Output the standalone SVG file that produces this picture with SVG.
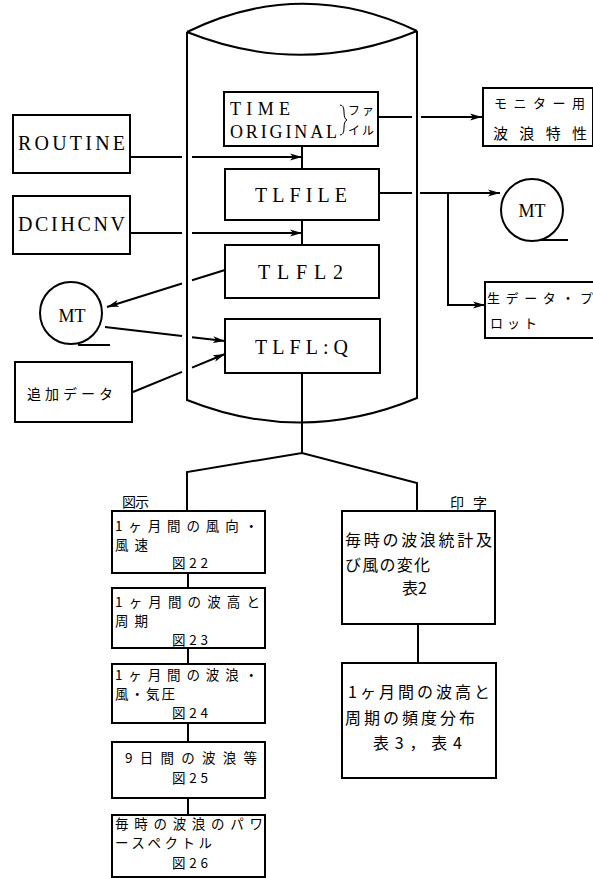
<svg xmlns="http://www.w3.org/2000/svg" width="593" height="878" viewBox="0 0 593 878">
<style>
.bx{fill:#fff;stroke:#000;stroke-width:2}
.ln{fill:none;stroke:#000;stroke-width:2}
.en{font-family:"Liberation Serif",serif;font-size:20px;fill:#000}
.jp{font-family:"Noto Sans CJK JP",sans-serif;font-size:14px;fill:#000}
.sm{font-size:13.5px}
.lg{font-size:16px}
.mid{text-anchor:middle}
</style>
<defs>
<marker id="ah" markerWidth="13" markerHeight="8" refX="12" refY="4" orient="auto" markerUnits="userSpaceOnUse">
<path d="M0,0.5 L12,4 L0,7.5 L3,4 z" fill="#000"/>
</marker>
</defs>
<rect width="593" height="878" fill="#fff"/>

<g id="cylinder">
<path class="ln" d="M187,32 Q302,-24 417,31 M187,32 Q302,78 417,31 M187,32 L187,400 Q302,446 417,398 L417,31"/>
</g>

<g id="connectors">
<path class="ln" d="M130,157 L182,157 M192,157 L302,157" marker-end="url(#ah)"/>
<path class="ln" d="M130,233 L182,233 M192,233 L302,233" marker-end="url(#ah)"/>
<path class="ln" d="M302,146 L302,169"/>
<path class="ln" d="M302,220 L302,245"/>
<path class="ln" d="M225,270 L192,280.3 M182,283.5 L107,307" marker-end="url(#ah)"/>
<path class="ln" d="M105,327 L182,336 M192,337.2 L225,341" marker-end="url(#ah)"/>
<path class="ln" d="M133,392 L182,371.8 M192,367.6 L225,354" marker-end="url(#ah)"/>
<path class="ln" d="M378,117 L412,117 M421,117 L482,117" marker-end="url(#ah)"/>
<path class="ln" d="M379,193 L412,193 M420,193 L500,193" marker-end="url(#ah)"/>
<path class="ln" d="M448,193 L448,305 L485,305" marker-end="url(#ah)"/>
<path class="ln" d="M302,373 L302,453 M187,511 L187,472 L302,453 L417,483 L417,511"/>
<path class="ln" d="M188,573 L188,588 M188,648 L188,664 M188,723 L188,742 M188,798 L188,815"/>
<path class="ln" d="M418,624 L418,663"/>
</g>

<g id="time-original">
<rect class="bx" x="224" y="92" width="154" height="54"/>
<text class="en" x="230" y="115" style="font-size:18px" textLength="60" lengthAdjust="spacing">TIME</text>
<text class="en" x="230" y="138" style="font-size:18px" textLength="107" lengthAdjust="spacing">ORIGINAL</text>
<path d="M340,105 Q344,105 344,112 Q344,119 347,120 Q344,121 344,128 Q344,135 340,135" fill="none" stroke="#000" stroke-width="1"/>
<text class="jp" x="348" y="115" style="font-size:12px" textLength="26" lengthAdjust="spacing">ファ</text>
<text class="jp" x="348" y="135" style="font-size:12px" textLength="26" lengthAdjust="spacing">イル</text>
</g>

<g id="tlfile">
<rect class="bx" x="225" y="169" width="154" height="51"/>
<text class="en" x="255" y="202" textLength="92" lengthAdjust="spacing">TLFILE</text>
</g>

<g id="tlfl2">
<rect class="bx" x="225" y="245" width="154" height="53"/>
<text class="en" x="258" y="279" textLength="85" lengthAdjust="spacing">TLFL2</text>
</g>

<g id="tlflq">
<rect class="bx" x="225" y="319" width="155" height="54"/>
<text class="en" x="255" y="354" textLength="93" lengthAdjust="spacing">TLFL:Q</text>
</g>

<g id="routine">
<rect class="bx" x="13" y="115" width="117" height="58"/>
<text class="en" x="18" y="150" textLength="107" lengthAdjust="spacing">ROUTINE</text>
</g>

<g id="dcihcnv">
<rect class="bx" x="13" y="196" width="117" height="58"/>
<text class="en" x="18" y="231" textLength="107" lengthAdjust="spacing">DCIHCNV</text>
</g>

<g id="mt-left">
<circle class="ln" cx="71" cy="313" r="31"/>
<path class="ln" d="M78,345 L110,345"/>
<text class="en mid" x="72" y="322" style="font-size:18px">MT</text>
</g>

<g id="tsuika">
<rect class="bx" x="15" y="362" width="117" height="60"/>
<text class="jp" x="27" y="399" textLength="86" lengthAdjust="spacing">追加データ</text>
</g>

<g id="monitor">
<rect class="bx" x="483" y="88" width="110" height="58"/>
<text class="jp" x="494" y="108" style="font-size:13px" textLength="91" lengthAdjust="spacing">モニター用</text>
<text class="jp" x="493" y="139" style="font-size:15px" textLength="94" lengthAdjust="spacing">波浪特性</text>
</g>

<g id="mt-right">
<circle class="ln" cx="532" cy="210" r="31"/>
<path class="ln" d="M540,240 L568,240"/>
<text class="en mid" x="532" y="217" style="font-size:18px">MT</text>
</g>

<g id="raw-plot">
<rect class="bx" x="485" y="282" width="110" height="56"/>
<text class="jp" x="487" y="303" style="font-size:13px" textLength="106" lengthAdjust="spacing">生データ・プ</text>
<text class="jp" x="490" y="328" style="font-size:13px" textLength="47" lengthAdjust="spacing">ロット</text>
</g>

<g id="label-zushi">
<text class="jp" x="122" y="507" textLength="27" lengthAdjust="spacing">図示</text>
</g>
<g id="label-inji">
<text class="jp" x="450" y="508" textLength="37" lengthAdjust="spacing">印字</text>
</g>

<g id="fig22">
<rect class="bx" x="112" y="511" width="153" height="62"/>
<text class="jp sm" x="115" y="531" textLength="143" lengthAdjust="spacing">1ヶ月間の風向・</text>
<text class="jp sm" x="115" y="550" textLength="33" lengthAdjust="spacing">風速</text>
<text class="jp sm" x="172" y="568" textLength="36" lengthAdjust="spacing">図22</text>
</g>

<g id="fig23">
<rect class="bx" x="112" y="588" width="153" height="60"/>
<text class="jp sm" x="115" y="607" textLength="145" lengthAdjust="spacing">1ヶ月間の波高と</text>
<text class="jp sm" x="115" y="626" textLength="33" lengthAdjust="spacing">周期</text>
<text class="jp sm" x="172" y="645" textLength="36" lengthAdjust="spacing">図23</text>
</g>

<g id="fig24">
<rect class="bx" x="112" y="664" width="153" height="59"/>
<text class="jp sm" x="115" y="680" textLength="143" lengthAdjust="spacing">1ヶ月間の波浪・</text>
<text class="jp sm" x="115" y="699" textLength="60" lengthAdjust="spacing">風・気圧</text>
<text class="jp sm" x="172" y="718" textLength="36" lengthAdjust="spacing">図24</text>
</g>

<g id="fig25">
<rect class="bx" x="112" y="742" width="153" height="56"/>
<text class="jp sm" x="125" y="763" textLength="132" lengthAdjust="spacing">9日間の波浪等</text>
<text class="jp sm" x="172" y="783" textLength="36" lengthAdjust="spacing">図25</text>
</g>

<g id="fig26">
<rect class="bx" x="112" y="815" width="153" height="62"/>
<text class="jp sm" x="115" y="829" textLength="148" lengthAdjust="spacing">毎時の波浪のパワ</text>
<text class="jp sm" x="115" y="848" textLength="97" lengthAdjust="spacing">ースペクトル</text>
<text class="jp sm" x="172" y="868" textLength="36" lengthAdjust="spacing">図26</text>
</g>

<g id="table2">
<rect class="bx" x="342" y="511" width="153" height="113"/>
<text class="jp lg" x="345" y="546" textLength="147" lengthAdjust="spacing">毎時の波浪統計及</text>
<text class="jp lg" x="345" y="571" textLength="85" lengthAdjust="spacing">び風の変化</text>
<text class="jp lg" x="402" y="594" textLength="25" lengthAdjust="spacing">表 2</text>
</g>

<g id="table34">
<rect class="bx" x="342" y="663" width="154" height="115"/>
<text class="jp lg" x="348" y="698" textLength="142" lengthAdjust="spacing">1ヶ月間の波高と</text>
<text class="jp lg" x="345" y="724" textLength="130" lengthAdjust="spacing">周期の頻度分布</text>
<text class="jp lg" x="373" y="749" textLength="89" lengthAdjust="spacing">表3，表4</text>
</g>
</svg>
